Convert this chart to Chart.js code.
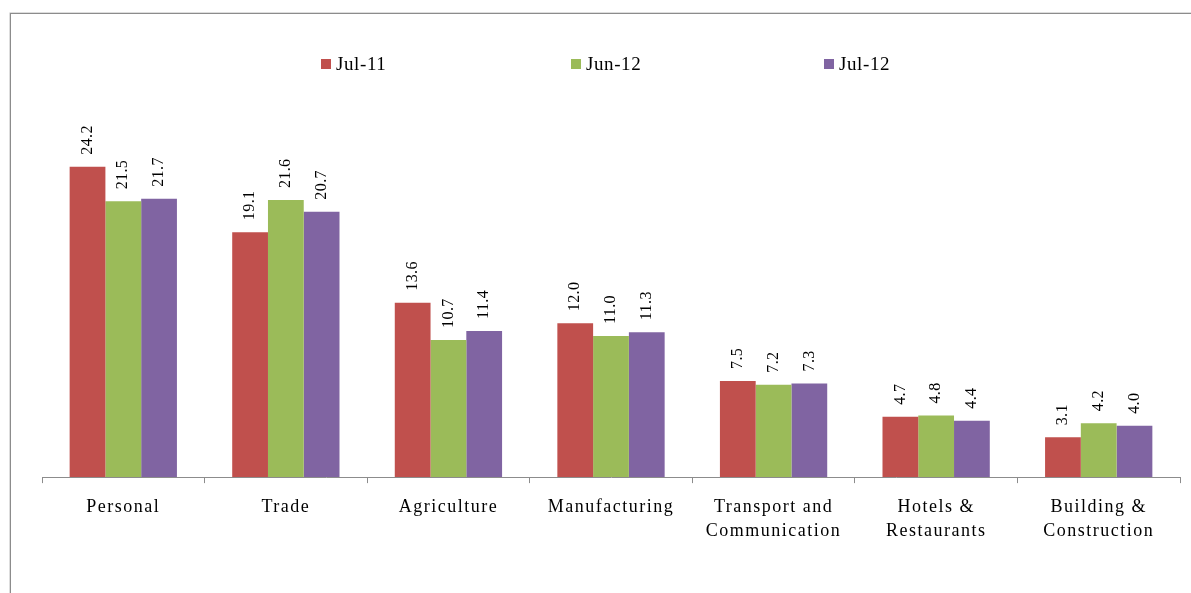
<!DOCTYPE html>
<html>
<head>
<meta charset="utf-8">
<script src="https://cdn.jsdelivr.net/npm/chart.js@4/dist/chart.umd.min.js"></script>
<style>
  body { margin: 0; background: #fff; }
  #frame { position: absolute; left: 10px; top: 13px; width: 1200px; height: 600px; border: 1px solid #8c8c8c; box-shadow: 0 0 0 0.5px #bbb; }
  #wrap { position: absolute; left: 0; top: 0; width: 1191px; height: 593px; }
</style>
</head>
<body>
<div id="frame"></div>
<div id="wrap"><canvas id="myChart"></canvas></div>
<script>
'use strict';

const categories = [
    'Personal',
    'Trade',
    'Agriculture',
    'Manufacturing',
    ['Transport and', 'Communication'],
    ['Hotels &', 'Restaurants'],
    ['Building &', 'Construction']
];
const jul11 = [24.2, 19.1, 13.6, 12.0, 7.5, 4.7, 3.1];
const jun12 = [21.5, 21.6, 10.7, 11.0, 7.2, 4.8, 4.2];
const jul12 = [21.7, 20.7, 11.4, 11.3, 7.3, 4.4, 4.0];
const seriesNames = ['Jul-11', 'Jun-12', 'Jul-12'];
const colors = ['#c0504d', '#9bbb59', '#8064a2'];

const serif = '"Liberation Serif", "Times New Roman", serif';

// the original text is a spaced-out Times, so widen the letters a bit
const spacing = {
    id: 'spacing',
    beforeUpdate(chart) { chart.ctx.letterSpacing = '1.5px'; },
    beforeLayout(chart) { chart.ctx.letterSpacing = '1.5px'; },
    beforeDraw(chart) { chart.ctx.letterSpacing = '1.5px'; }
};

// value labels, rotated, above each bar
const valueLabels = {
    id: 'valueLabels',
    afterDatasetsDraw(chart) {
        const c = chart.ctx;
        c.save();
        c.font = '16px ' + serif;
        c.letterSpacing = '0.4px';
        c.fillStyle = '#000';
        c.textAlign = 'left';
        c.textBaseline = 'middle';
        chart.data.datasets.forEach((ds, i) => {
            chart.getDatasetMeta(i).data.forEach((bar, j) => {
                c.save();
                c.translate(bar.x, bar.y - 12);
                c.rotate(-Math.PI / 2);
                c.fillText(ds.data[j].toFixed(1), 0, 0);
                c.restore();
            });
        });
        c.restore();
    }
};

// legend spread across the top like the original
const spreadLegend = {
    id: 'spreadLegend',
    afterDraw(chart) {
        const c = chart.ctx;
        const xs = [321, 571, 824];
        c.save();
        c.font = '19px ' + serif;
        c.letterSpacing = '0.6px';
        c.textBaseline = 'middle';
        chart.data.datasets.forEach((ds, i) => {
            c.fillStyle = ds.backgroundColor;
            c.fillRect(xs[i], 59, 10, 10);
            c.fillStyle = '#000';
            c.fillText(ds.label, xs[i] + 15, 65);
        });
        c.restore();
    }
};

const ctx = document.getElementById('myChart').getContext('2d');

new Chart(ctx, {
    type: 'bar',
    data: {
        labels: categories,
        datasets: [
            { label: seriesNames[0], data: jul11, backgroundColor: colors[0] },
            { label: seriesNames[1], data: jun12, backgroundColor: colors[1] },
            { label: seriesNames[2], data: jul12, backgroundColor: colors[2] }
        ]
    },
    options: {
        responsive: true,
        maintainAspectRatio: false,
        animation: false,
        layout: {
            padding: { left: 42, right: 11, top: 118, bottom: 38 }
        },
        datasets: {
            bar: {
                categoryPercentage: 0.66,
                barPercentage: 1.0,
                borderWidth: 0
            }
        },
        scales: {
            x: {
                grid: {
                    drawOnChartArea: false,
                    drawTicks: true,
                    tickLength: 6,
                    color: '#8c8c8c',
                    offset: true
                },
                border: { color: '#8c8c8c', width: 1 },
                ticks: {
                    color: '#000',
                    padding: 12,
                    maxRotation: 0,
                    autoSkip: false,
                    font: { family: serif, size: 18, lineHeight: 1.33 }
                }
            },
            y: {
                display: false,
                min: 0,
                max: 28
            }
        },
        plugins: {
            legend: { display: false },
            tooltip: { enabled: false }
        }
    },
    plugins: [spacing, valueLabels, spreadLegend]
});
</script>
</body>
</html>
